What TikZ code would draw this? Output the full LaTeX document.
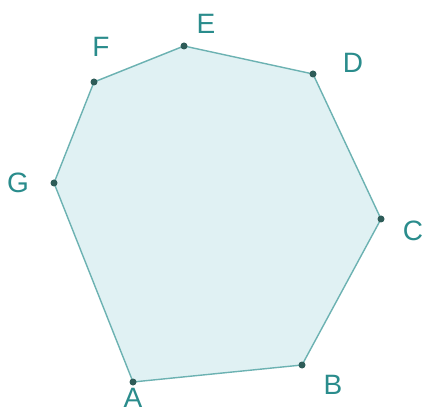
\documentclass[tikz,border=0pt]{standalone}
\usepackage{fontspec}
\setmainfont{Liberation Sans}
\definecolor{fillc}{HTML}{E0F1F3}
\definecolor{edgec}{HTML}{6CB2B2}
\definecolor{dotc}{HTML}{2E5C58}
\definecolor{labc}{HTML}{2A8C8C}
\begin{document}
\begin{tikzpicture}[x=1pt,y=-1pt,
  vtx/.style={circle,fill=dotc,inner sep=0pt,minimum size=7pt},
  lab/.style={text=labc,font=\fontsize{28}{30}\selectfont,inner sep=0pt}]
\useasboundingbox[fill=white] (0,0) rectangle (426,414);
\coordinate (A) at (133,382);
\coordinate (B) at (302,365);
\coordinate (C) at (381,219);
\coordinate (D) at (313,74);
\coordinate (E) at (184,46);
\coordinate (F) at (94,82);
\coordinate (G) at (54,183);
\filldraw[fill=fillc,draw=edgec,line width=1.4pt,line join=round] (A)--(B)--(C)--(D)--(E)--(F)--(G)--cycle;
\foreach \p in {A,B,C,D,E,F,G} \node[vtx] (v\p) at (\p) {};
\node[lab] (lA) at (133,398) {A};
\node[lab] (lB) at (333,385) {B};
\node[lab] (lC) at (413,231) {C};
\node[lab] (lD) at (353,63) {D};
\node[lab] (lE) at (206,24) {E};
\node[lab] (lF) at (101,47) {F};
\node[lab] (lG) at (18,183) {G};
\end{tikzpicture}
\end{document}
